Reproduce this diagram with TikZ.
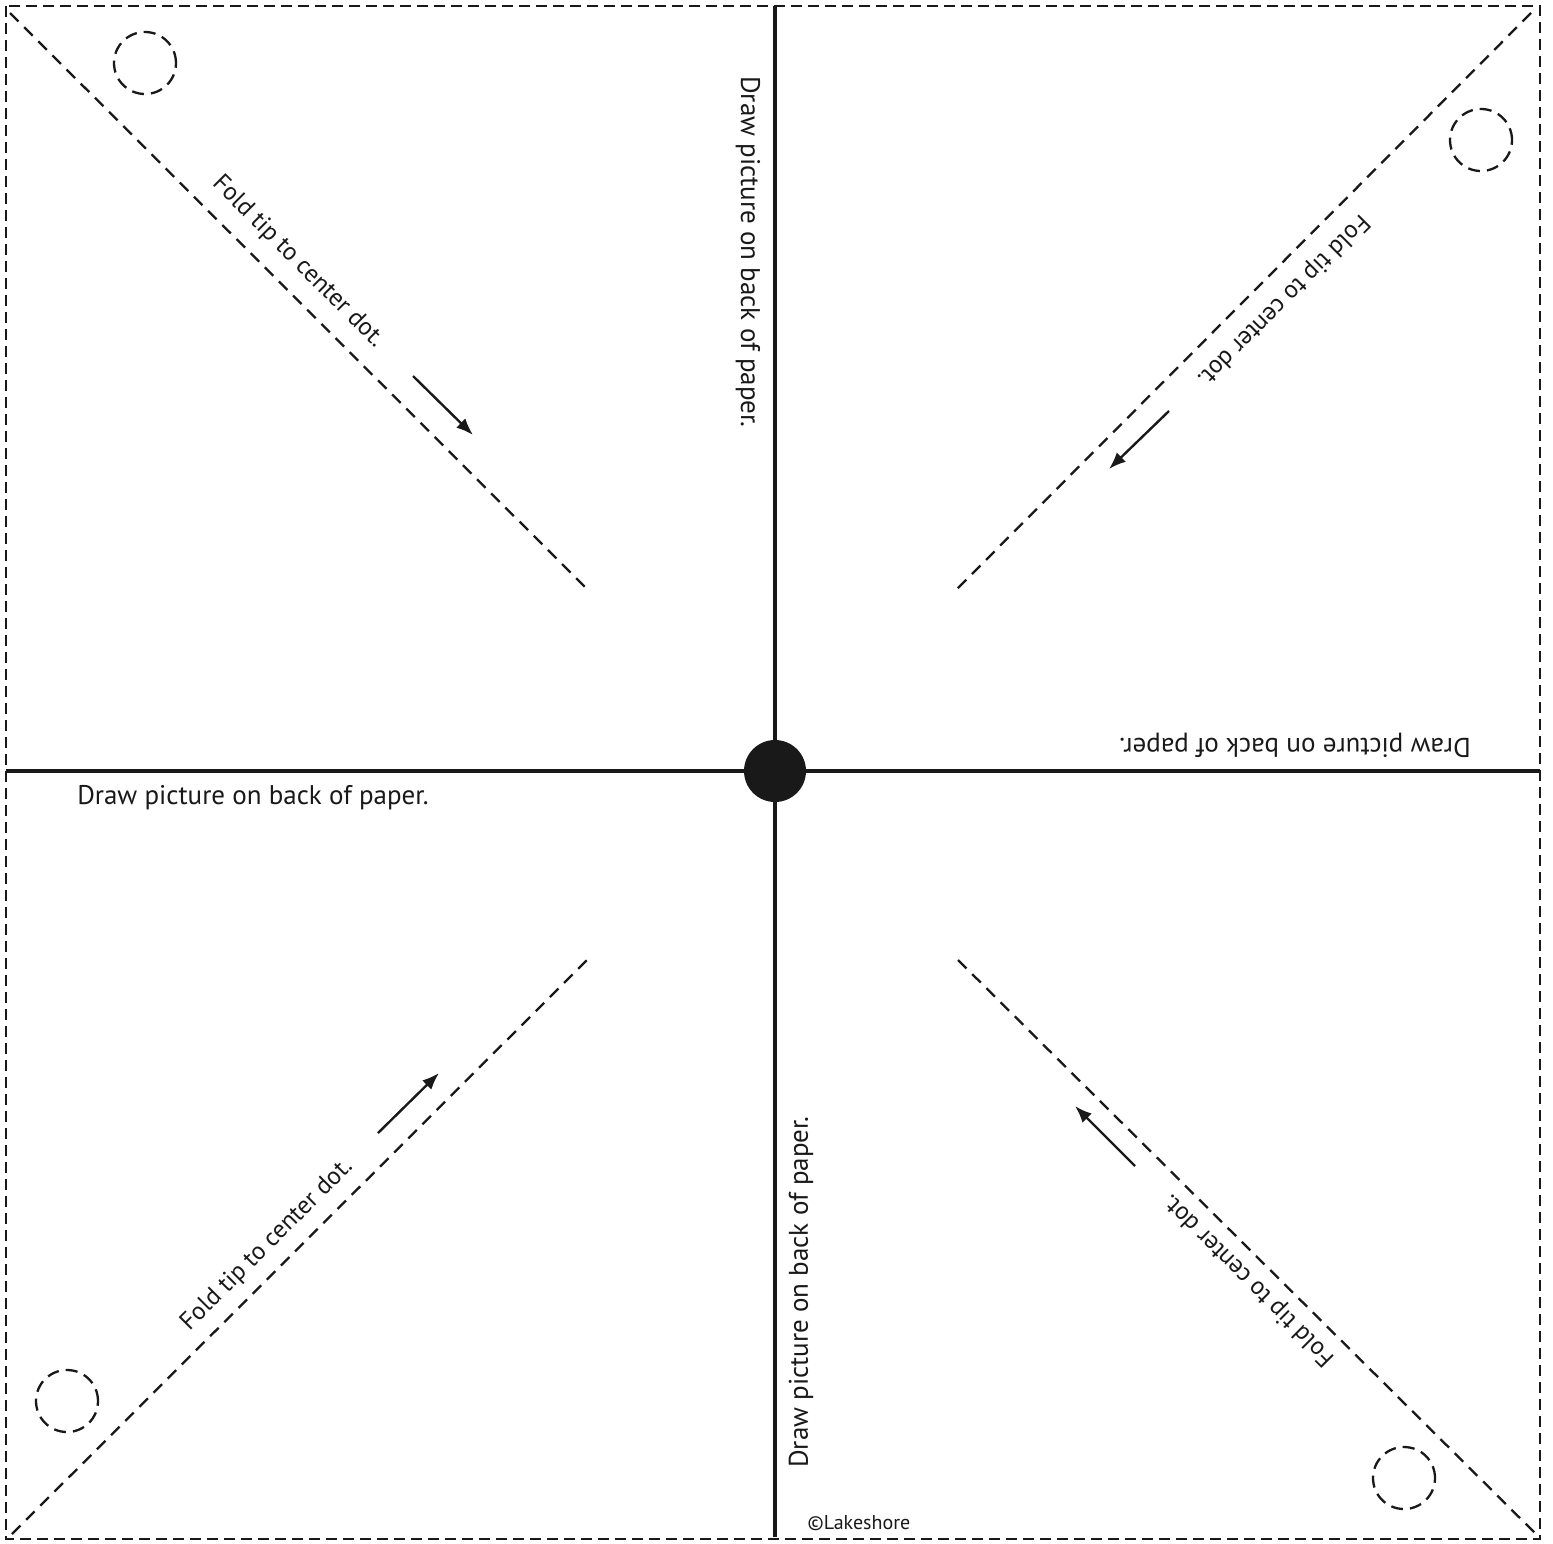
\documentclass[tikz,border=0pt]{standalone}
\usepackage{fontspec}
\setmainfont{PT Sans}
\usetikzlibrary{arrows.meta}
\begin{document}
\begin{tikzpicture}[x=1pt,y=-1pt,
  fold/.style={draw=black!90, line width=2.3pt, dash pattern=on 12pt off 8pt},
  border/.style={draw=black!90, line width=2.4pt, dash pattern=on 11pt off 6pt},
  axis/.style={draw=black!90, line width=4pt},
  hole/.style={draw=black!90, line width=2.3pt, dash pattern=on 12pt off 7pt},
  hint/.style={draw=black!90, line width=2.4pt, -{Latex[length=17pt,width=13pt]}},
  lbl/.style={font=\fontsize{27}{27}\selectfont, text=black!90, inner sep=0pt},
  flbl/.style={font=\fontsize{25}{25}\selectfont, text=black!90, inner sep=0pt},
]
\useasboundingbox (0,0) rectangle (1553,1543);
\fill[white] (0,0) rectangle (1553,1543);
% border
\coordinate (b1) at (6,6);
\coordinate (b2) at (1540,1539);
\draw[border] (b1) rectangle (b2);
% axes
\coordinate (vt) at (775,6);
\coordinate (vb) at (775,1537);
\coordinate (hl) at (6,771);
\coordinate (hr) at (1540,771);
\draw[axis] (vt) -- (vb);
\draw[axis] (hl) -- (hr);
\node[circle, fill=black!90, minimum size=62pt, inner sep=0pt] (dot) at (775,771) {};
% diagonals
\coordinate (tl1) at (10,13); \coordinate (tl2) at (588,590);
\coordinate (tr1) at (1531,13); \coordinate (tr2) at (954,592);
\coordinate (bl1) at (12,1534); \coordinate (bl2) at (589,958);
\coordinate (br1) at (958,960); \coordinate (br2) at (1536,1534);
\draw[fold] (tl1) -- (tl2);
\draw[fold] (tr1) -- (tr2);
\draw[fold] (bl1) -- (bl2);
\draw[fold] (br1) -- (br2);
% holes
\node[hole, circle, minimum size=62pt, inner sep=0pt] (h1) at (145,63) {};
\node[hole, circle, minimum size=62pt, inner sep=0pt] (h2) at (1481,140) {};
\node[hole, circle, minimum size=62pt, inner sep=0pt] (h3) at (67,1401) {};
\node[hole, circle, minimum size=62pt, inner sep=0pt] (h4) at (1404,1478) {};
% arrows
\coordinate (a1s) at (413,376); \coordinate (a1e) at (473,435);
\coordinate (a2s) at (1169,411); \coordinate (a2e) at (1109,469);
\coordinate (a3s) at (378,1133); \coordinate (a3e) at (439,1073);
\coordinate (a4s) at (1135,1166); \coordinate (a4e) at (1075,1106);
\draw[hint] (a1s) -- (a1e);
\draw[hint] (a2s) -- (a2e);
\draw[hint] (a3s) -- (a3e);
\draw[hint] (a4s) -- (a4e);
% labels
\node[lbl, rotate=-90] (d1) at (748,252) {Draw picture on back of paper.};
\node[lbl, rotate=90] (d2) at (801,1292) {Draw picture on back of paper.};
\node[lbl] (d3) at (253,798) {Draw picture on back of paper.};
\node[lbl, rotate=180] (d4) at (1295,745) {Draw picture on back of paper.};
\node[flbl, rotate=-45] (f1) at (298,262) {Fold tip to center dot.};
\node[flbl, rotate=-135] (f2) at (1283,300) {Fold tip to center dot.};
\node[flbl, rotate=45] (f3) at (267,1245) {Fold tip to center dot.};
\node[flbl, rotate=135] (f4) at (1249,1280) {Fold tip to center dot.};
\node[font=\fontsize{20}{20}\selectfont, text=black!90, inner sep=0pt] (c) at (859,1523) {©Lakeshore};
\end{tikzpicture}
\end{document}
